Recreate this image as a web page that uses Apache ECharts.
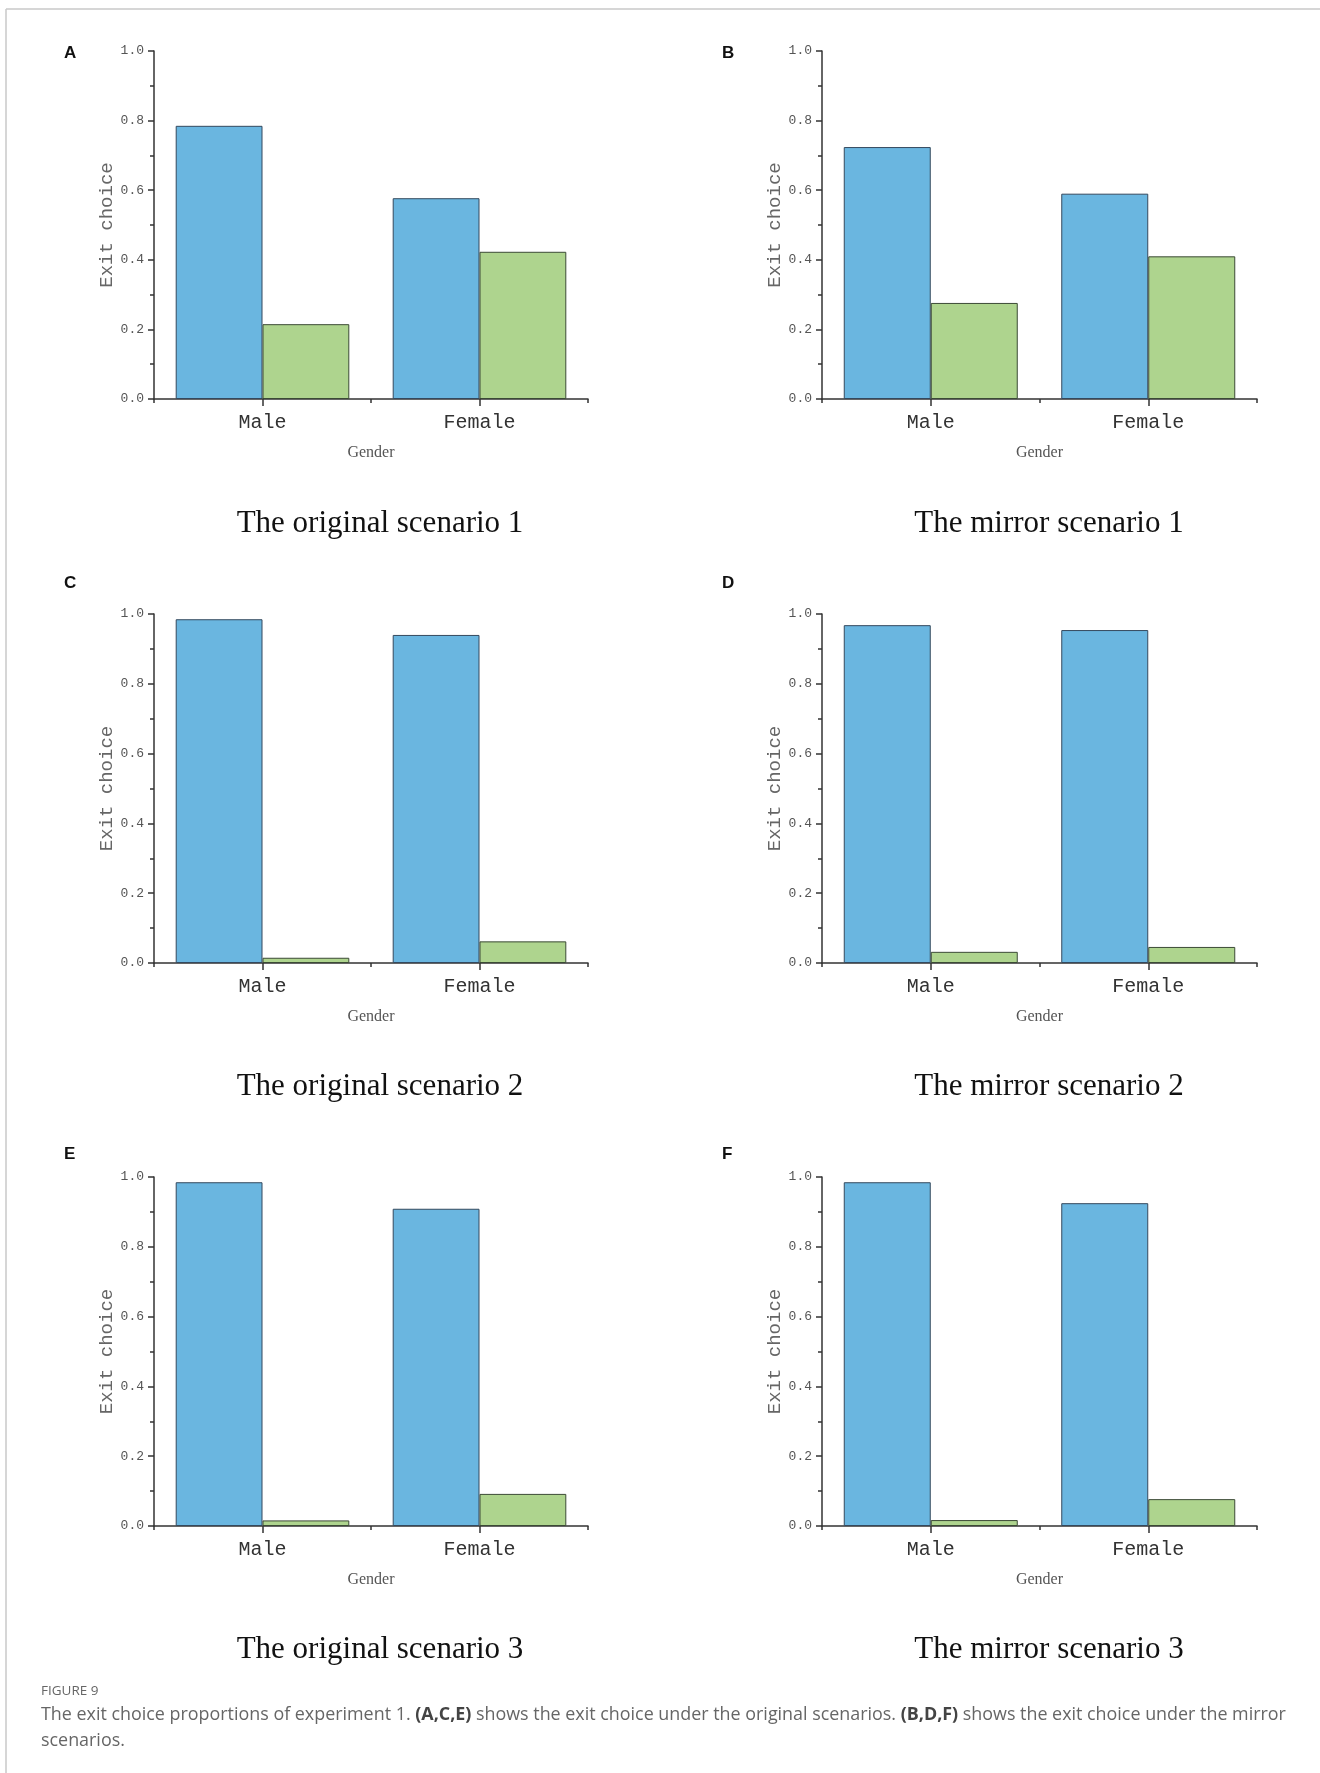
<!DOCTYPE html>
<html>
<head>
<meta charset="utf-8">
<script src="https://cdn.jsdelivr.net/npm/echarts@6/dist/echarts.min.js"></script>
<style>html,body{margin:0;padding:0;background:#fff}#c{width:1320px;height:1773px}</style>
</head>
<body>
<div id="c"></div>
<script>
const categories = ['Male', 'Female'];
const yTicks = [0, 0.2, 0.4, 0.6, 0.8, 1.0];
const panelLetters = ['A', 'B', 'C', 'D', 'E', 'F'];
const panelTitles = ['The original scenario 1', 'The mirror scenario 1', 'The original scenario 2', 'The mirror scenario 2', 'The original scenario 3', 'The mirror scenario 3'];
// blue series and green series per panel
const blueA = [0.785, 0.577], greenA = [0.215, 0.423];
const blueB = [0.724, 0.590], greenB = [0.276, 0.410];
const blueC = [0.985, 0.940], greenC = [0.015, 0.062];
const blueD = [0.968, 0.954], greenD = [0.032, 0.046];
const blueE = [0.985, 0.909], greenE = [0.016, 0.092];
const blueF = [0.985, 0.925], greenF = [0.017, 0.077];
const blues = [blueA, blueB, blueC, blueD, blueE, blueF];
const greens = [greenA, greenB, greenC, greenD, greenE, greenF];
const xName = 'Gender', yName = 'Exit choice';

// layout (pixels)
const colLeft = [154, 822];
const colWidth = [434, 435];
const rowTop = [[51, 51], [614, 614], [1177, 1177]];
const rowBottom = [[399, 399], [963, 963], [1526, 1526]];
const titleX = [380, 1049];
const titleY = [524, 1087, 1650];
const letterX = [70, 728];
const letterY = [54, 584, 1155];

const grids = [], xAxes = [], yAxes = [], series = [], graphics = [];
const MONO = '"Liberation Mono", "DejaVu Sans Mono", monospace';
for (let p = 0; p < 6; p++) {
  const col = p % 2, row = Math.floor(p / 2);
  const top = rowTop[row][col], bottom = rowBottom[row][col];
  grids.push({ left: colLeft[col], top: top, width: colWidth[col], height: bottom - top });
  xAxes.push({
    type: 'category', gridIndex: p, data: categories, position: 'bottom',
    axisLine: { show: true, lineStyle: { color: '#333', width: 1.5 } },
    axisTick: { show: true, alignWithLabel: true, length: 7, lineStyle: { color: '#333', width: 1.5 } },
    axisLabel: { fontFamily: MONO, fontSize: 20, color: '#333', margin: 14 },
    name: xName, nameLocation: 'middle', nameGap: 46,
    nameTextStyle: { fontFamily: '"Liberation Serif", serif', fontSize: 16, color: '#555' },
    splitLine: { show: false }
  });
  xAxes.push({
    type: 'category', gridIndex: p, data: categories, position: 'bottom',
    axisLine: { show: false },
    axisTick: { show: true, alignWithLabel: false, length: 4, lineStyle: { color: '#333', width: 1.5 } },
    axisLabel: { show: false }, splitLine: { show: false }
  });
  yAxes.push({
    type: 'value', gridIndex: p, min: yTicks[0], max: yTicks[yTicks.length - 1], interval: 0.2,
    axisLine: { show: true, lineStyle: { color: '#333', width: 1.5 } },
    axisTick: { show: true, length: 6, lineStyle: { color: '#333', width: 1.5 } },
    minorTick: { show: true, splitNumber: 2, length: 4, lineStyle: { color: '#333', width: 1.5 } },
    axisLabel: { fontFamily: MONO, fontSize: 13, color: '#555', margin: 10, formatter: v => v.toFixed(1) },
    splitLine: { show: false },
    name: yName, nameLocation: 'middle', nameGap: 38, nameRotate: 90,
    nameTextStyle: { fontFamily: MONO, fontSize: 19, color: '#666' }
  });
  series.push({
    type: 'bar', xAxisIndex: p * 2, yAxisIndex: p, data: blues[p],
    barGap: '0%', barCategoryGap: '20%',
    itemStyle: { color: '#6ab6e0', borderColor: '#34495e', borderWidth: 1 }
  });
  series.push({
    type: 'bar', xAxisIndex: p * 2, yAxisIndex: p, data: greens[p],
    barGap: '0%', barCategoryGap: '20%',
    itemStyle: { color: '#aed48e', borderColor: '#3b4a35', borderWidth: 1 }
  });
  graphics.push({
    type: 'text', left: letterX[col] - 6, top: letterY[row] - 9,
    style: { text: panelLetters[p], fontFamily: '"Liberation Sans", Arial, sans-serif', fontWeight: 'bold', fontSize: 17, fill: '#111' }
  });
  graphics.push({
    type: 'text', x: titleX[col], y: titleY[row],
    style: { text: panelTitles[p], fontFamily: '"Liberation Serif", "Times New Roman", serif', fontSize: 31, fill: '#111', align: 'center', verticalAlign: 'middle' }
  });
}
// frame
graphics.push({ type: 'line', shape: { x1: 6, y1: 9, x2: 1320, y2: 9 }, style: { stroke: '#c8c8c8', lineWidth: 1.5 } });
graphics.push({ type: 'line', shape: { x1: 6, y1: 9, x2: 6, y2: 1773 }, style: { stroke: '#c8c8c8', lineWidth: 1.5 } });
// caption
const SANS = '"Open Sans", "Noto Sans", sans-serif';
graphics.push({ type: 'text', x: 41, y: 1691, style: { text: 'FIGURE 9', fontFamily: SANS, fontSize: 13.5, fill: '#666', verticalAlign: 'middle' } });
graphics.push({
  type: 'text', x: 41, y: 1715,
  style: {
    text: '{n|The exit choice proportions of experiment 1. }{b|(A,C,E)}{n| shows the exit choice under the original scenarios. }{b|(B,D,F)}{n| shows the exit choice under the mirror}',
    verticalAlign: 'middle',
    rich: {
      n: { fontFamily: SANS, fontSize: 17.9, fill: '#666', color: '#666' },
      b: { fontFamily: SANS, fontSize: 17.9, fontWeight: 'bold', fill: '#444', color: '#444' }
    }
  }
});
graphics.push({ type: 'text', x: 41, y: 1741, style: { text: 'scenarios.', fontFamily: SANS, fontSize: 17.9, fill: '#666', verticalAlign: 'middle' } });

const chart = echarts.init(document.getElementById('c'), null, { renderer: 'canvas' });
chart.setOption({
  animation: false,
  backgroundColor: '#fff',
  grid: grids, xAxis: xAxes, yAxis: yAxes, series: series, graphic: graphics
});
</script>
</body>
</html>
